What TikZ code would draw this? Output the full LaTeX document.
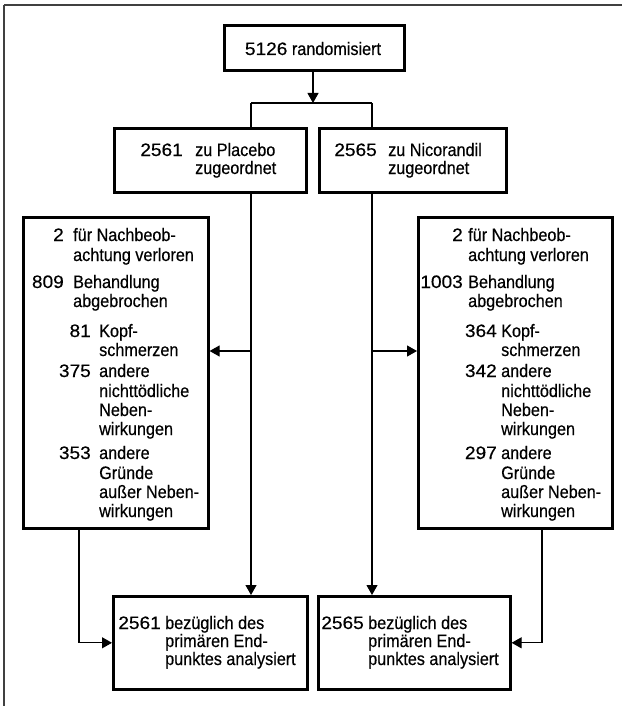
\documentclass[tikz,border=0pt]{standalone}
\usepackage{fontspec}
\setmainfont{Liberation Sans}[FakeStretch=0.9,FakeBold=0.4]
\newfontfamily\digitfont{Liberation Sans}[FakeStretch=1.06,FakeBold=0.4]
\usetikzlibrary{arrows.meta}
\begin{document}
\begin{tikzpicture}[x=1pt,y=-1pt,
  box/.style={draw, line width=2.6pt, inner sep=0pt, anchor=north west},
  conn/.style={line width=1.1pt},
  arr/.style={conn, -{Triangle[length=10pt,width=11pt]}},
  txt/.style={inner sep=0pt, anchor=base west, font=\fontsize{18}{20}\selectfont},
  num/.style={inner sep=0pt, anchor=base east, font=\digitfont\fontsize{18}{20}\selectfont},
  ctr/.style={inner sep=0pt, anchor=base, font=\fontsize{18}{20}\selectfont},
  frame/.style={draw=black!75}]
\useasboundingbox (0,0) rectangle (622,706);
% frame
\draw[frame, line width=1.8pt] (4,5) -- (622,5);
\draw[frame, line width=1.2pt] (4,5) -- (4,706);
% boxes
\node[box, minimum width=180pt, minimum height=45pt] (rand) at (223,24) {};
\node[box, minimum width=192pt, minimum height=64pt] (plac) at (113,127) {};
\node[box, minimum width=187pt, minimum height=64pt] (nico) at (318,127) {};
\node[box, minimum width=185pt, minimum height=311pt] (lossL) at (22,216) {};
\node[box, minimum width=194pt, minimum height=311pt] (lossR) at (417,216) {};
\node[box, minimum width=194pt, minimum height=93pt] (anL) at (112,595) {};
\node[box, minimum width=192pt, minimum height=93pt] (anR) at (317,595) {};
% texts
\node[ctr] (t0) at (313,55) {{\digitfont 5126} randomisiert};
\node[num] (t1n) at (183,156) {2561};
\node[txt] (t1a) at (195,156) {zu Placebo};
\node[txt] (t1b) at (195,174) {zugeordnet};
\node[num] (t2n) at (377,156) {2565};
\node[txt] (t2a) at (388,156) {zu Nicorandil};
\node[txt] (t2b) at (388,174) {zugeordnet};
% left loss box
\node[num] (l1n) at (64,241) {2};
\node[txt] (l1a) at (73,241) {für Nachbeob-};
\node[txt] (l1b) at (73,261) {achtung verloren};
\node[num] (l2n) at (64,288) {809};
\node[txt] (l2a) at (73,288) {Behandlung};
\node[txt] (l2b) at (73,307) {abgebrochen};
\node[num] (l3n) at (91,337) {81};
\node[txt] (l3a) at (99,337) {Kopf-};
\node[txt] (l3b) at (99,356) {schmerzen};
\node[num] (l4n) at (91,377) {375};
\node[txt] (l4a) at (99,377) {andere};
\node[txt] (l4b) at (99,397) {nichttödliche};
\node[txt] (l4c) at (99,416) {Neben-};
\node[txt] (l4d) at (99,435) {wirkungen};
\node[num] (l5n) at (91,459) {353};
\node[txt] (l5a) at (99,459) {andere};
\node[txt] (l5b) at (99,479) {Gründe};
\node[txt] (l5c) at (99,498) {außer Neben-};
\node[txt] (l5d) at (99,517) {wirkungen};
% right loss box
\node[num] (r1n) at (463,241) {2};
\node[txt] (r1a) at (468,241) {für Nachbeob-};
\node[txt] (r1b) at (468,261) {achtung verloren};
\node[num] (r2n) at (463,288) {1003};
\node[txt] (r2a) at (468,288) {Behandlung};
\node[txt] (r2b) at (468,307) {abgebrochen};
\node[num] (r3n) at (497,337) {364};
\node[txt] (r3a) at (501,337) {Kopf-};
\node[txt] (r3b) at (501,356) {schmerzen};
\node[num] (r4n) at (497,377) {342};
\node[txt] (r4a) at (501,377) {andere};
\node[txt] (r4b) at (501,397) {nichttödliche};
\node[txt] (r4c) at (501,416) {Neben-};
\node[txt] (r4d) at (501,435) {wirkungen};
\node[num] (r5n) at (497,459) {297};
\node[txt] (r5a) at (501,459) {andere};
\node[txt] (r5b) at (501,479) {Gründe};
\node[txt] (r5c) at (501,498) {außer Neben-};
\node[txt] (r5d) at (501,517) {wirkungen};
% analysed boxes text
\node[num] (a1n) at (161,629) {2561};
\node[txt] (a1a) at (165,629) {bezüglich des};
\node[txt] (a1b) at (165,647) {primären End-};
\node[txt] (a1c) at (165,665) {punktes analysiert};
\node[num] (a2n) at (364,629) {2565};
\node[txt] (a2a) at (368,629) {bezüglich des};
\node[txt] (a2b) at (368,647) {primären End-};
\node[txt] (a2c) at (368,665) {punktes analysiert};
% connectors
\coordinate (split) at (313,103);
\coordinate (sl) at (251,103);
\coordinate (sr) at (372,103);
\coordinate (bl) at (251,351);
\coordinate (br) at (372,351);
\coordinate (dl) at (79,0);
\coordinate (dr) at (542,0);
\draw[arr] (rand.south -| split) -- (split);
\draw[conn] (sl) -- (sr);
\draw[conn] (sl) -- (sl |- plac.north);
\draw[conn] (sr) -- (sr |- nico.north);
\draw[arr] (sl |- plac.south) -- (sl |- anL.north);
\draw[arr] (sr |- nico.south) -- (sr |- anR.north);
\draw[arr] (bl) -- (bl -| lossL.east);
\draw[arr] (br) -- (br -| lossR.west);
\draw[arr] (dl |- lossL.south) |- (anL.west);
\draw[arr] (dr |- lossR.south) |- (anR.east);
\end{tikzpicture}
\end{document}
